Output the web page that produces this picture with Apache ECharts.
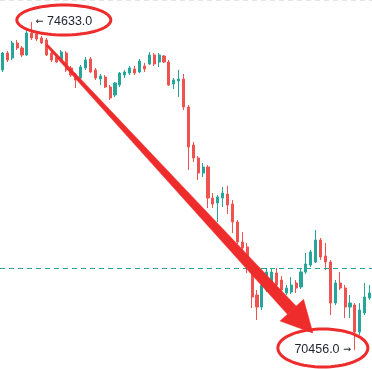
<!DOCTYPE html>
<html><head><meta charset="utf-8">
<script src="https://cdn.jsdelivr.net/npm/echarts@6/dist/echarts.min.js"></script>
<style>html,body{margin:0;padding:0;background:#fff}#c{width:372px;height:369px}</style>
</head><body><div id="c"></div>
<script>
const categories = [1,2,3,4,5,6,7,8,9,10,11,12,13,14,15,16,17,18,19,20,21,22,23,24,25,26,27,28,29,30,31,32,33,34,35,36,37,38,39,40,41,42,43,44,45,46,47,48,49,50,51,52,53,54,55,56,57,58,59,60,61,62,63,64,65,66,67,68,69,70,71,72,73,74,75,76];
const opens  = [74022,74238,74174,74365,74302,74213,74493,74480,74429,74404,74238,74187,74149,74238,74047,73958,73920,74047,74162,74022,73907,73932,73805,73703,73831,73958,73983,74034,73996,74073,74098,74213,74123,74200,74123,73843,73882,73907,73550,73066,72901,72710,72786,72391,72328,72391,72442,72315,72086,71831,71768,71411,71156,71003,71220,71322,71436,71347,71182,71194,71309,71258,71449,71538,71576,71857,71653,71576,71054,71309,71245,71003,71029,70685,70927,71118];
const closes = [74238,74149,74365,74302,74213,74493,74429,74416,74365,74213,74149,74123,74251,74022,73958,73894,74060,74149,73996,73920,73945,73805,73665,73856,73983,73996,74047,73983,74136,74034,74213,74098,74213,74123,73831,73894,73907,73550,73041,72901,72710,72786,72391,72315,72404,72455,72302,72086,71831,71755,71500,71131,71003,71283,71449,71449,71283,71220,71245,71283,71245,71449,71551,71704,71857,71640,71576,71054,71309,71245,71003,71054,70685,70965,71131,71182];
const lows   = [73996,74123,74149,74276,74187,74200,74404,74391,74353,74200,74123,74111,74136,73996,73932,73792,73894,74022,73983,73894,73831,73792,73640,73678,73805,73920,73958,73958,73983,73996,74085,74073,74060,74111,73818,73780,73678,73512,72748,72850,72621,72659,72264,72264,72086,72277,72188,71946,71806,71704,71436,70991,70838,70965,71194,71296,71258,71194,71156,71169,71182,71233,71424,71513,71564,71602,71475,70901,71029,71220,70863,70863,70456,70647,70901,71092];
const highs  = [74251,74264,74391,74404,74327,74531,74633,74506,74455,74429,74264,74213,74276,74264,74073,73983,74085,74187,74187,74047,73971,73958,73831,73869,73996,74022,74073,74073,74162,74111,74251,74238,74238,74213,74149,73920,74022,73971,73576,73105,72926,72837,72812,72455,72430,72532,72544,72366,72111,71959,71818,71475,71220,71475,71500,71500,71500,71398,71283,71385,71347,71500,71691,71729,71984,71882,71818,71602,71347,71449,71283,71156,71054,71054,71309,71283];
const refLevel = 71500;
const highValue = 74633.0;
const lowValue = 70456.0;
const yMin = 70214, yMax = 74913;

const UP = '#26a69a', DOWN = '#ef5350', ANN = '#ee2c2c';
const chart = echarts.init(document.getElementById('c'), null, {renderer: 'canvas'});
const candleData = categories.map((c, i) => [opens[i], closes[i], lows[i], highs[i]]);
const hiIdx = highs.indexOf(Math.max.apply(null, highs));
const loIdx = lows.indexOf(Math.min.apply(null, lows));
const richStyle = {
  n: {color: '#1e222d', fontSize: 12.5, fontFamily: 'Liberation Sans, Arial, sans-serif'},
  a: {color: '#1e222d', fontSize: 9.5, fontFamily: 'DejaVu Sans, sans-serif'}
};

chart.setOption({
  animation: false,
  grid: {left: 0, right: 0, top: 0, bottom: 0},
  xAxis: {type: 'category', data: categories, show: false, boundaryGap: true},
  yAxis: {type: 'value', min: yMin, max: yMax, show: false},
  series: [{
    type: 'candlestick',
    data: candleData,
    barWidth: 2.6,
    itemStyle: {color: UP, color0: DOWN, borderColor: UP, borderColor0: DOWN, borderWidth: 1},
    markLine: {
      silent: true, symbol: 'none', label: {show: false},
      lineStyle: {color: UP, type: [5, 4], width: 1},
      data: [{yAxis: refLevel}]
    },
    markPoint: {
      symbol: 'circle', symbolSize: 0, silent: true,
      data: [
        {coord: [hiIdx, highValue], label: {show: true, position: 'right', distance: 4, formatter: '{a|←} {n|' + highValue.toFixed(1) + '}', rich: richStyle}},
        {coord: [loIdx, lowValue], label: {show: true, position: 'left', distance: 4, formatter: '{n|' + lowValue.toFixed(1) + '} {a|→}', rich: richStyle}}
      ]
    }
  }]
});

function ellipsePts(cx, cy, rx, ry, rot) {
  const pts = [];
  const c = Math.cos(rot), s = Math.sin(rot);
  for (let k = 0; k < 72; k++) {
    const t = k / 72 * Math.PI * 2;
    const x = rx * Math.cos(t), y = ry * Math.sin(t);
    pts.push([cx + x * c - y * s, cy + x * s + y * c]);
  }
  return pts;
}

const pHi = chart.convertToPixel({seriesIndex: 0}, [hiIdx, highValue]);
const pLo = chart.convertToPixel({seriesIndex: 0}, [loIdx, lowValue]);

const start = [pHi[0] + 15, pHi[1] + 23];
const tip = [pLo[0] - 42, pLo[1] - 17];
const dx = tip[0] - start[0], dy = tip[1] - start[1];
const len = Math.sqrt(dx * dx + dy * dy);
const ux = dx / len, uy = dy / len, px = -uy, py = ux;
const headLen = 31, headHalf = 16, w0 = 1.2, w1 = 6;
const base = [tip[0] - ux * headLen, tip[1] - uy * headLen];
const shaft = [
  [start[0] + px * w0, start[1] + py * w0],
  [base[0] + px * w1, base[1] + py * w1],
  [base[0] - px * w1, base[1] - py * w1],
  [start[0] - px * w0, start[1] - py * w0]
];
const head = [
  [base[0] + px * headHalf, base[1] + py * headHalf],
  [tip[0], tip[1]],
  [base[0] - px * headHalf, base[1] - py * headHalf]
];

chart.setOption({
  graphic: [
    {type: 'line', z: 1, silent: true, shape: {x1: 0, y1: 0.5, x2: 372, y2: 0.5}, style: {stroke: '#e4e4e4', lineWidth: 1, lineDash: [5, 4]}},
    {type: 'polygon', z: 100, silent: true, shape: {points: shaft}, style: {fill: ANN, stroke: ANN, lineWidth: 0.5}},
    {type: 'polygon', z: 100, silent: true, shape: {points: head}, style: {fill: ANN, stroke: ANN, lineWidth: 0.5}},
    {type: 'polygon', z: 100, silent: true, shape: {points: ellipsePts(pHi[0] + 32, pHi[1] - 2, 47, 15, 0)}, style: {fill: 'none', stroke: ANN, lineWidth: 3}},
    {type: 'polygon', z: 100, silent: true, shape: {points: ellipsePts(pLo[0] - 32, pLo[1] - 2, 45, 19, 0)}, style: {fill: 'none', stroke: ANN, lineWidth: 3}}
  ]
});
</script>
</body></html>
